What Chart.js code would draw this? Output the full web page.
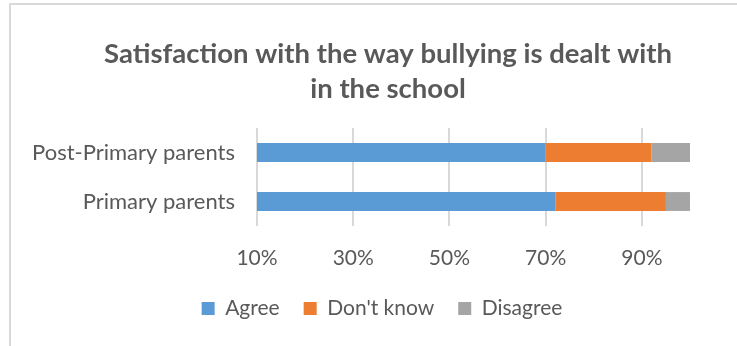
<!DOCTYPE html>
<html>
<head>
<meta charset="utf-8">
<script src="https://cdn.jsdelivr.net/npm/chart.js@4.4.1/dist/chart.umd.min.js"></script>
<style>
  html, body { margin: 0; padding: 0; background: #fff; }
  #wrap { width: 737px; height: 346px; position: relative; }
</style>
</head>
<body>
<div id="wrap"><canvas id="chart"></canvas></div>
<script>
    'use strict';

    // Dados do gráfico
    const categories = ['Post-Primary parents', 'Primary parents'];
    const agree = [70, 72];
    const dontKnow = [22, 23];
    const disagree = [8, 5];
    const tickValues = [10, 30, 50, 70, 90];

    const fontFamily = 'Lato, "Open Sans", sans-serif';
    const textColor = '#595959';

    // Moldura fina no topo e à esquerda
    const framePlugin = {
        id: 'frame',
        beforeDraw: function(chart) {
            const c = chart.ctx;
            c.save();
            c.fillStyle = '#ffffff';
            c.fillRect(0, 0, chart.width, chart.height);
            c.strokeStyle = '#d9d9d9';
            c.lineWidth = 2;
            c.beginPath();
            c.moveTo(10, chart.height);
            c.lineTo(10, 4);
            c.lineTo(chart.width, 4);
            c.stroke();
            c.restore();
        }
    };

    // Centraliza título e legenda sobre a área do gráfico, não sobre o canvas inteiro
    const centerBlocksPlugin = {
        id: 'centerBlocks',
        afterLayout: function(chart) {
            const area = chart.chartArea;
            if (chart.titleBlock) {
                chart.titleBlock.left = 86;
                chart.titleBlock.right = area.right;
            }
            if (chart.legend) {
                chart.legend.left += 31;
                chart.legend.right += 31;
            }
        }
    };

    const ctx = document.getElementById('chart');

    new Chart(ctx, {
        type: 'bar',
        data: {
            labels: categories,
            datasets: [
                { label: 'Agree', data: agree, backgroundColor: '#5b9bd5', clip: 0 },
                { label: "Don't know", data: dontKnow, backgroundColor: '#ed7d31', clip: 0 },
                { label: 'Disagree', data: disagree, backgroundColor: '#a5a5a5', clip: 0 }
            ]
        },
        options: {
            indexAxis: 'y',
            responsive: true,
            maintainAspectRatio: false,
            animation: false,
            categoryPercentage: 1,
            barPercentage: 0.385,
            layout: {
                padding: { left: 12, right: 47, top: 0, bottom: 17 }
            },
            plugins: {
                title: {
                    display: true,
                    text: ['Satisfaction with the way bullying is dealt with', 'in the school'],
                    color: textColor,
                    font: { family: fontFamily, size: 27.5, weight: 'bold', lineHeight: '35px' },
                    padding: { top: 37, bottom: 21 }
                },
                legend: {
                    display: true,
                    position: 'bottom',
                    labels: {
                        color: textColor,
                        font: { family: fontFamily, size: 21 },
                        boxWidth: 13,
                        boxHeight: 13,
                        padding: 24
                    }
                },
                tooltip: { enabled: false }
            },
            scales: {
                x: {
                    stacked: true,
                    min: 10,
                    max: 100,
                    afterBuildTicks: function(scale) {
                        scale.ticks = tickValues.map(function(v) { return { value: v }; });
                    },
                    afterFit: function(scale) { scale.height = 48; },
                    grid: { color: '#d9d9d9', lineWidth: 2, drawTicks: false },
                    border: { display: false },
                    ticks: {
                        color: textColor,
                        padding: 20,
                        font: { family: fontFamily, size: 21 },
                        callback: function(v) { return v + '%'; }
                    }
                },
                y: {
                    stacked: true,
                    afterFit: function(scale) { scale.width = 245; },
                    grid: { display: false, drawTicks: false },
                    border: { display: false },
                    ticks: {
                        color: textColor,
                        padding: 22,
                        font: { family: fontFamily, size: 22 }
                    }
                }
            }
        },
        plugins: [framePlugin, centerBlocksPlugin]
    });
</script>
</body>
</html>
